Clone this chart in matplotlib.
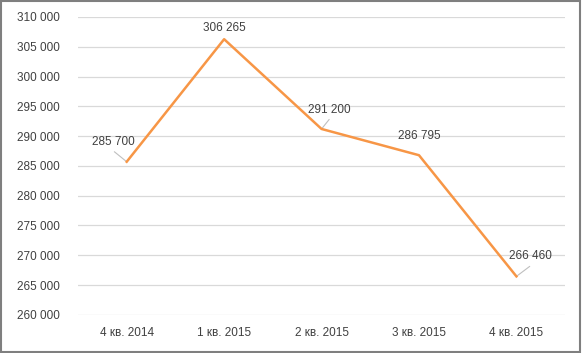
import matplotlib.pyplot as plt
from matplotlib.patches import Rectangle
from matplotlib.ticker import FuncFormatter, MultipleLocator

quarters = ['4 кв. 2014', '1 кв. 2015', '2 кв. 2015', '3 кв. 2015', '4 кв. 2015']
values = [285700, 306265, 291200, 286795, 266460]
# label offsets in pixels (dx, dy) relative to the point
label_offsets = [(-13, 20), (0, 11), (8, 19), (0, 19), (14, 20)]
leader = [True, False, True, False, True]


def fmt(v, pos=None):
    return f'{v:,.0f}'.replace(',', ' ')


plt.rcParams['font.family'] = ['Liberation Sans', 'DejaVu Sans']
text_color = '#404040'

fig = plt.figure(figsize=(5.82, 3.53), dpi=100)
ax = fig.add_axes([0.134, 0.108, 0.837, 0.844])

x = list(range(len(quarters)))
ax.plot(x, values, color='#F79646', linewidth=1.8, zorder=3)

# data labels
for xi, v, (dx, dy), has_line in zip(x, values, label_offsets, leader):
    ax.annotate(fmt(v), xy=(xi, v), xytext=(dx, dy), textcoords='offset pixels',
                ha='center', va='center', fontsize=8.5, color=text_color, zorder=4)
    if has_line:
        ax.annotate('', xy=(xi, v), xytext=(dx * 0.95, dy * 0.5), textcoords='offset pixels',
                    arrowprops=dict(arrowstyle='-', color='#bfbfbf', lw=0.8,
                                    shrinkA=0, shrinkB=1), zorder=2)

ax.set_xlim(-0.5, len(quarters) - 0.5)
ax.set_ylim(260000, 310000)
ax.yaxis.set_major_locator(MultipleLocator(5000))
ax.yaxis.set_major_formatter(FuncFormatter(fmt))
ax.set_xticks(x)
ax.set_xticklabels(quarters)
ax.grid(axis='y', color='#d9d9d9', linewidth=0.9)
ax.set_axisbelow(True)
for s in ax.spines.values():
    s.set_visible(False)
ax.tick_params(axis='both', length=0, labelsize=8.5, colors=text_color)
ax.tick_params(axis='y', pad=13)
ax.tick_params(axis='x', pad=9)

# outer frame of the chart
fig.patches.append(Rectangle((0.002, 0.004), 0.994, 0.992, transform=fig.transFigure,
                             fill=False, edgecolor='#7f7f7f', linewidth=1.5))

fig.savefig('out.png', dpi=100)
